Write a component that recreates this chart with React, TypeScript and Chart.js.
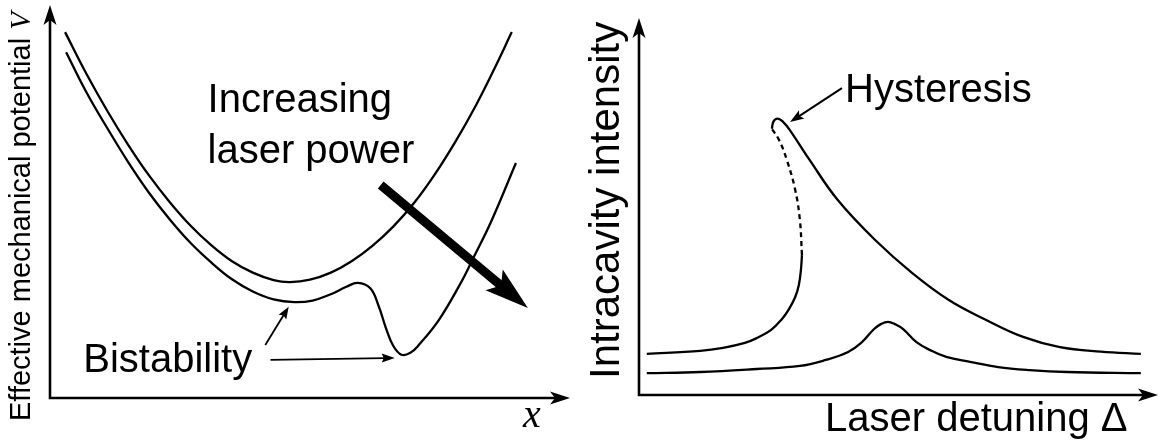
import React, { useEffect, useRef } from "react";
import { Chart, registerables } from "chart.js";

Chart.register(...registerables);

const SANS = 'Arial, "Liberation Sans", Helvetica, sans-serif';
const SERIF = '"Liberation Serif", "Times New Roman", Times, serif';

// ---------- Left panel: effective mechanical potential V(x) (axes 0..100) ----------
const potUpperX = [2.9, 7, 11, 15, 19, 23, 27, 31, 35, 39, 43, 46.1, 50, 54, 58, 62, 66, 70, 74, 78, 82, 85.5, 88.8];
const potUpperY = [93.1, 82.5, 73.1, 64.5, 56.7, 49.9, 43.9, 38.9, 34.8, 31.9, 30.0, 29.5, 30.1, 31.9, 34.8, 38.7, 43.6, 49.6, 56.9, 65.3, 74.7, 83.9, 93.1];

const potLowerX = [3.1, 7, 11, 15, 19, 23, 27, 31, 35, 39, 43, 47, 50.5, 54, 57, 59.2, 61.6, 63.2, 64.6, 66.0, 67.6, 69.3, 71.0, 74.8, 79.0, 81.5, 84.8, 89.6];
const potLowerY = [88.0, 77.8, 68.7, 60.1, 52.3, 45.5, 39.5, 34.5, 30.2, 27.1, 25.1, 24.4, 24.8, 26.4, 28.3, 29.3, 27.9, 23.4, 17.8, 13.3, 11.0, 11.5, 13.6, 19.9, 29.3, 35.9, 44.8, 59.8];

const powerArrowX = [63.6, 91.9];
const powerArrowY = [54.2, 22.9];
const bistArrow1X = [41.4, 45.9];
const bistArrow1Y = [13.5, 23.2];
const bistArrow2X = [42.4, 66.3];
const bistArrow2Y = [9.7, 10.2];

const leftLabels = ["Increasing", "laser power", "Bistability"];
const leftLabelX = [30.3, 30.3, 6.4];
const leftLabelY = [72.8, 59.8, 6.6];

// ---------- Right panel: intracavity intensity vs laser detuning (axes 0..100) ----------
const hiLowBranchX = [1.5, 11.8, 16.2, 20.4, 22.7, 25.4, 27.4, 28.9, 30.1, 30.8, 31.2, 31.4];
const hiLowBranchY = [10.9, 11.7, 12.5, 13.8, 15.1, 17.2, 19.9, 22.8, 26.0, 29.2, 33.2, 37.1];

const hiUnstableX = [31.4, 31.0, 30.1, 28.5, 27.0, 25.6];
const hiUnstableY = [37.1, 46.4, 54.4, 62.3, 67.6, 70.6];

const hiUpperBranchX = [25.6, 25.9, 26.7, 27.8, 29.1, 32.8, 38.3, 45.5, 52.6, 59.7, 66.9, 74.0, 81.1, 89.0, 96.7];
const hiUpperBranchY = [70.6, 72.5, 73.3, 72.4, 70.2, 62.5, 51.7, 41.1, 32.4, 25.2, 19.9, 15.4, 12.7, 11.5, 10.9];

const lowPowerX = [1.5, 11.8, 22.7, 31.0, 36.0, 40.3, 42.8, 45.3, 46.6, 48.0, 49.3, 50.9, 53.4, 56.1, 59.2, 63.8, 69.2, 75.3, 82.5, 96.7];
const lowPowerY = [5.8, 6.1, 6.9, 7.7, 9.3, 11.4, 13.8, 17.5, 18.8, 19.4, 18.8, 17.5, 14.1, 11.9, 10.1, 8.8, 7.4, 6.6, 6.1, 5.8];

const hystArrowX = [39.1, 29.1];
const hystArrowY = [81.4, 72.4];

const rightLabels = ["Hysteresis"];
const rightLabelX = [39.7];
const rightLabelY = [77.7];

// ---------- helpers ----------
const pts = (xs: number[], ys: number[]) => xs.map((x, i) => ({ x, y: ys[i] }));

function curve(xs: number[], ys: number[], dash: number[] = []) {
  return {
    data: pts(xs, ys),
    showLine: true,
    borderColor: "#000",
    borderWidth: 2.3,
    borderDash: dash,
    pointRadius: 0,
    tension: 0.4,
    fill: false,
    clip: false,
  };
}
function hidden(xs: number[], ys: number[]) {
  return { data: pts(xs, ys), showLine: false, pointRadius: 0, borderWidth: 0, clip: false };
}

function head(ctx: CanvasRenderingContext2D, x0: number, y0: number, x1: number, y1: number, len: number, half: number, notch: number) {
  const d = Math.hypot(x1 - x0, y1 - y0);
  const ux = (x1 - x0) / d, uy = (y1 - y0) / d;
  const nx = -uy, ny = ux;
  ctx.beginPath();
  ctx.moveTo(x1, y1);
  ctx.lineTo(x1 - len * ux + half * nx, y1 - len * uy + half * ny);
  ctx.lineTo(x1 - (len - notch) * ux, y1 - (len - notch) * uy);
  ctx.lineTo(x1 - len * ux - half * nx, y1 - len * uy - half * ny);
  ctx.closePath();
  ctx.fill();
}
function arrow(ctx: CanvasRenderingContext2D, x0: number, y0: number, x1: number, y1: number, w: number, len: number, half: number, notch: number) {
  const d = Math.hypot(x1 - x0, y1 - y0);
  const ux = (x1 - x0) / d, uy = (y1 - y0) / d;
  ctx.lineWidth = w;
  ctx.lineCap = "butt";
  ctx.beginPath();
  ctx.moveTo(x0, y0);
  ctx.lineTo(x1 - (len - notch - 1) * ux, y1 - (len - notch - 1) * uy);
  ctx.stroke();
  head(ctx, x0, y0, x1, y1, len, half, notch);
}

type ArrowSpec = { ds: number; w: number; len: number; half: number; notch: number };

function makePlugin(arrows: ArrowSpec[], labels: string[], lx: number[], ly: number[], extra: (ctx: CanvasRenderingContext2D, chart: any) => void) {
  return {
    id: "schematic",
    afterDraw(chart: any) {
      const ctx: CanvasRenderingContext2D = chart.ctx;
      const a = chart.chartArea;
      const xs = chart.scales.x, ys = chart.scales.y;
      ctx.save();
      ctx.fillStyle = "#000";
      ctx.strokeStyle = "#000";
      // axes with arrow heads
      ctx.lineWidth = 2.6;
      ctx.lineCap = "butt";
      ctx.beginPath();
      ctx.moveTo(a.left, a.top + 15);
      ctx.lineTo(a.left, a.bottom);
      ctx.lineTo(a.right - 15, a.bottom);
      ctx.stroke();
      head(ctx, a.left, a.bottom, a.left, a.top, 20, 6.5, 5);
      head(ctx, a.left, a.bottom, a.right, a.bottom, 20, 6.5, 5);
      // arrows from datasets
      arrows.forEach((s) => {
        const meta = chart.getDatasetMeta(s.ds);
        const p0 = meta.data[0], p1 = meta.data[1];
        arrow(ctx, p0.x, p0.y, p1.x, p1.y, s.w, s.len, s.half, s.notch);
      });
      // in-plot labels
      ctx.font = `40px ${SANS}`;
      ctx.textAlign = "left";
      ctx.textBaseline = "alphabetic";
      labels.forEach((t, i) => ctx.fillText(t, xs.getPixelForValue(lx[i]), ys.getPixelForValue(ly[i])));
      extra(ctx, chart);
      ctx.restore();
    },
  };
}

function baseOptions(padding: any) {
  return {
    responsive: false,
    maintainAspectRatio: false,
    animation: false as const,
    events: [] as any[],
    layout: { padding },
    scales: {
      x: { type: "linear" as const, min: 0, max: 100, display: false },
      y: { type: "linear" as const, min: 0, max: 100, display: false },
    },
    plugins: { legend: { display: false }, tooltip: { enabled: false } },
  };
}

export default function App() {
  const leftRef = useRef<HTMLCanvasElement>(null);
  const rightRef = useRef<HTMLCanvasElement>(null);

  useEffect(() => {
    const leftPlugin = makePlugin(
      [
        { ds: 2, w: 9, len: 44, half: 13.5, notch: 9 },
        { ds: 3, w: 1.8, len: 12, half: 4.5, notch: 2 },
        { ds: 4, w: 1.8, len: 13, half: 4.5, notch: 2 },
      ],
      leftLabels,
      leftLabelX,
      leftLabelY,
      (ctx, chart) => {
        const a = chart.chartArea;
        // y-axis title (rotated)
        ctx.save();
        ctx.translate(a.left - 20, 421);
        ctx.rotate(-Math.PI / 2);
        ctx.font = `29px ${SANS}`;
        const t = "Effective mechanical potential ";
        ctx.fillText(t, 0, 0);
        const w = ctx.measureText(t).width;
        ctx.font = `italic 29px ${SERIF}`;
        ctx.fillText("V", w, 0);
        ctx.restore();
        // x-axis title
        ctx.font = `italic 40px ${SERIF}`;
        ctx.fillText("x", a.right - 47, a.bottom + 29);
      }
    );

    const rightPlugin = makePlugin(
      [{ ds: 4, w: 2, len: 14, half: 5, notch: 3 }],
      rightLabels,
      rightLabelX,
      rightLabelY,
      (ctx, chart) => {
        const a = chart.chartArea;
        ctx.save();
        ctx.translate(a.left - 20, a.bottom - 16);
        ctx.rotate(-Math.PI / 2);
        ctx.font = `42px ${SANS}`;
        ctx.fillText("Intracavity intensity", 0, 0);
        ctx.restore();
        ctx.font = `40px ${SANS}`;
        ctx.fillText("Laser detuning \u0394", a.left + 186, a.bottom + 36);
      }
    );

    const left = new Chart(leftRef.current as HTMLCanvasElement, {
      type: "scatter",
      data: {
        datasets: [
          curve(potUpperX, potUpperY),
          curve(potLowerX, potLowerY),
          hidden(powerArrowX, powerArrowY),
          hidden(bistArrow1X, bistArrow1Y),
          hidden(bistArrow2X, bistArrow2Y),
        ] as any,
      },
      options: baseOptions({ left: 50, right: 10, top: 5, bottom: 47 }) as any,
      plugins: [leftPlugin as any],
    });

    const right = new Chart(rightRef.current as HTMLCanvasElement, {
      type: "scatter",
      data: {
        datasets: [
          curve(hiLowBranchX, hiLowBranchY),
          curve(hiUnstableX, hiUnstableY, [5, 4]),
          curve(hiUpperBranchX, hiUpperBranchY),
          curve(lowPowerX, lowPowerY),
          hidden(hystArrowX, hystArrowY),
        ] as any,
      },
      options: baseOptions({ left: 59, right: 1, top: 18, bottom: 50 }) as any,
      plugins: [rightPlugin as any],
    });

    return () => {
      left.destroy();
      right.destroy();
    };
  }, []);

  return (
    <div style={{ position: "absolute", left: 0, top: 0, width: 1159, height: 445, background: "#fff" }}>
      <canvas ref={leftRef} width={580} height={445} style={{ position: "absolute", left: 0, top: 0, width: 580, height: 445 }} />
      <canvas ref={rightRef} width={579} height={445} style={{ position: "absolute", left: 580, top: 0, width: 579, height: 445 }} />
    </div>
  );
}
